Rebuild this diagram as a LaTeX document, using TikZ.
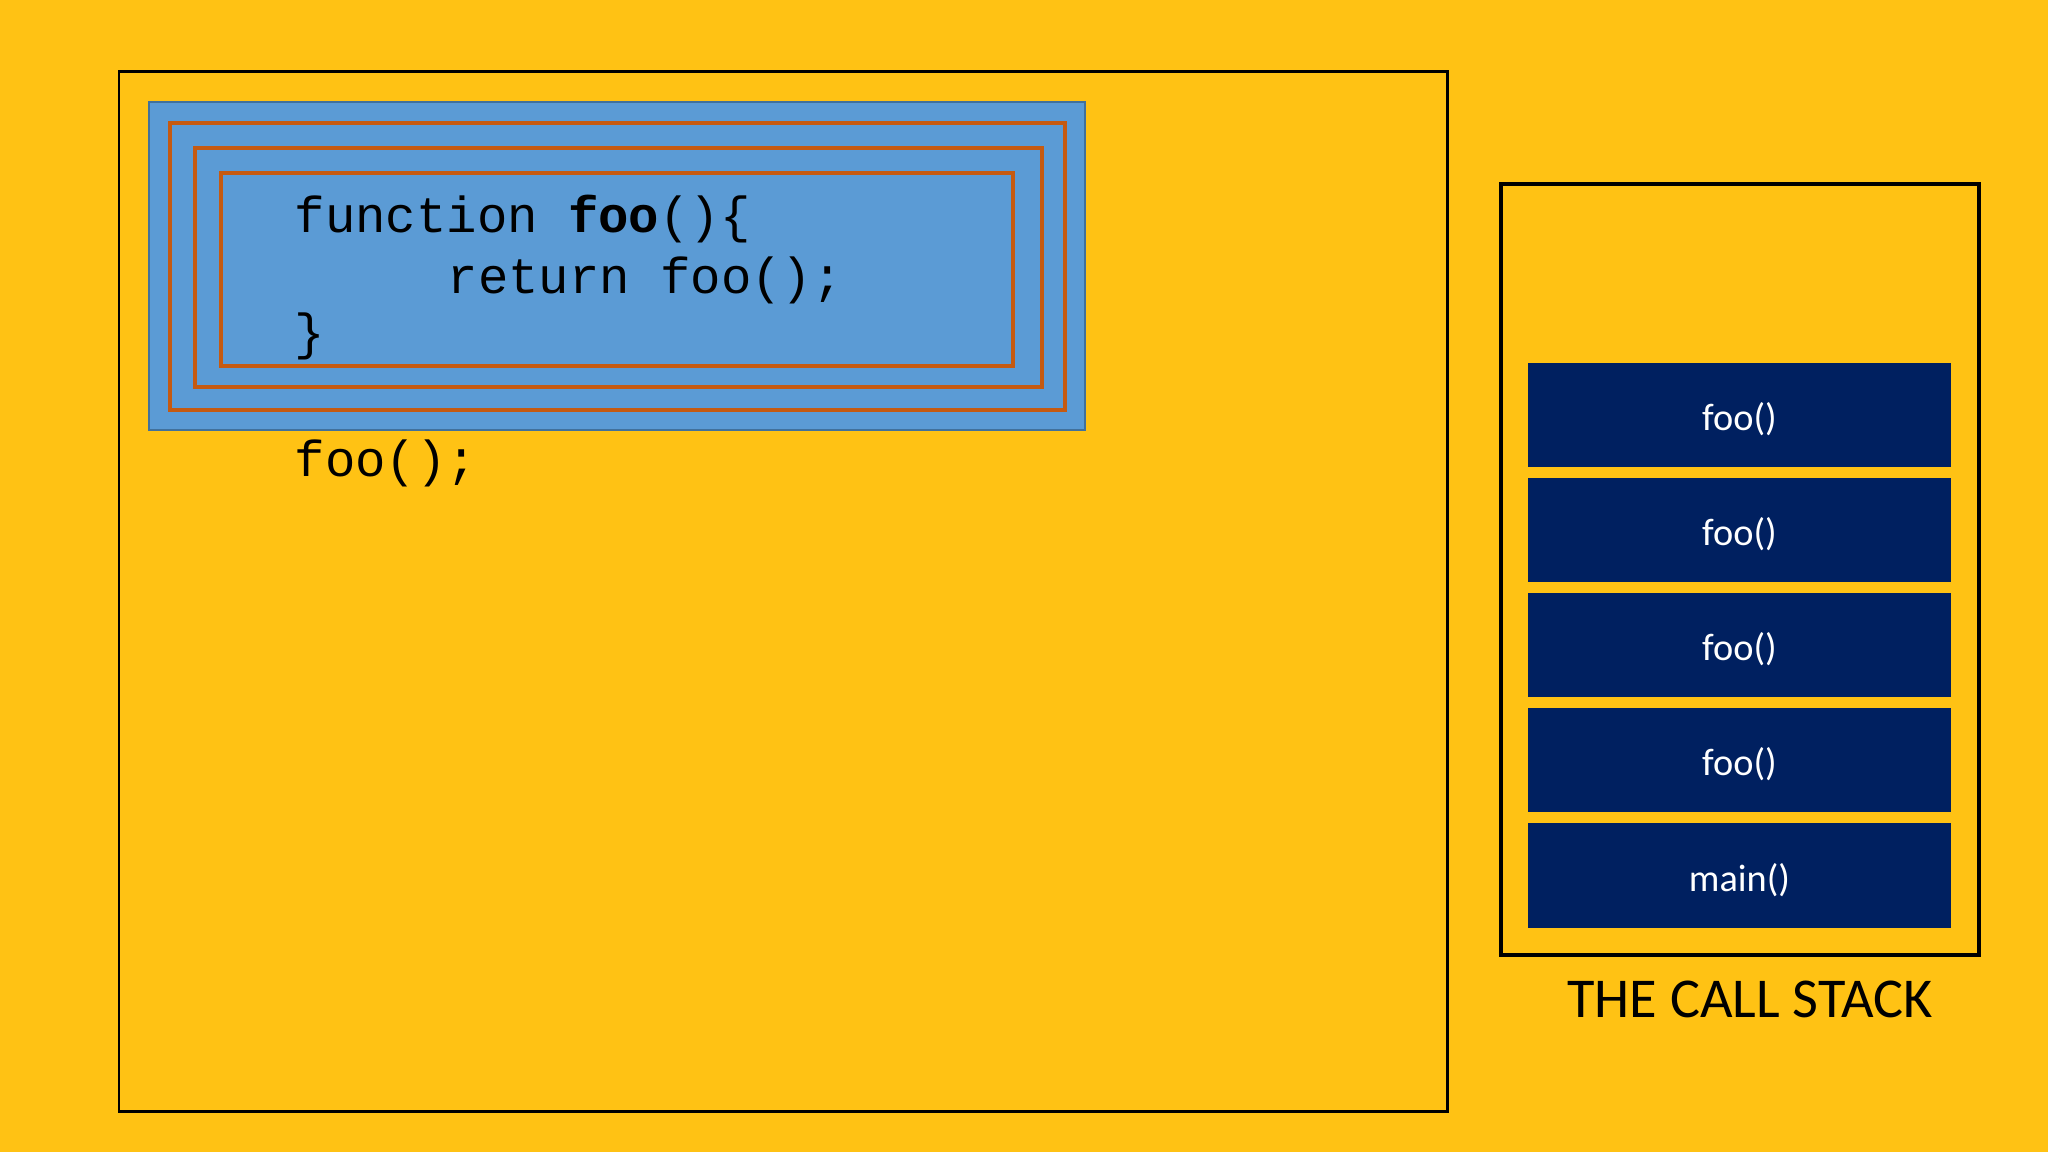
\documentclass[tikz,border=0pt]{standalone}
\usepackage{fontspec}
\setmainfont{Carlito}
\newfontfamily\codefont{Liberation Mono}
\definecolor{bgyellow}{RGB}{255,194,20}
\definecolor{codeblue}{RGB}{91,155,213}
\definecolor{codeedge}{RGB}{65,113,156}
\definecolor{frameorange}{RGB}{197,90,17}
\definecolor{stacknavy}{RGB}{0,32,96}
\tikzset{
  codetext/.style={anchor=base west,inner sep=0pt,font=\codefont\fontsize{14.4pt}{17pt}\selectfont,text=black},
  frame/.style={draw=frameorange,line width=1pt},
  stackitem/.style={fill=stacknavy,draw=none,minimum width=4.23cm,minimum height=1.04cm,inner sep=0pt,text=white,text height=1.9ex,text depth=0ex,font=\fontsize{10.9pt}{12pt}\selectfont},
}
\begin{document}
\begin{tikzpicture}[x=0.01cm,y=-0.01cm]
\fill[bgyellow] (0,0) rectangle (2048,1152);
\useasboundingbox (0,0) rectangle (2048,1152);
% left program area
\draw[line width=0.85pt,black] (119,72) rectangle (1447,1111);
\draw[fill=codeblue,draw=codeedge,line width=0.3pt] (149,102) rectangle (1085,430);
\draw[frame] (170,123) rectangle (1065,410);
\draw[frame] (195,148) rectangle (1042,387);
\draw[frame] (221,173) rectangle (1013,366);
\node[codetext] (l1) at (294,233) {function \textbf{foo}()\{};
\node[codetext] (l2) at (447,294) {return foo();};
\node[codetext] (l3) at (294,350) {\}};
\node[codetext] (l4) at (294,477) {foo();};
% call stack
\draw[line width=1.4pt,black] (1501,184) rectangle (1979,955);
\node[stackitem] (s1) at (1739.5,415) {foo()};
\node[stackitem] (s2) at (1739.5,530) {foo()};
\node[stackitem] (s3) at (1739.5,645) {foo()};
\node[stackitem] (s4) at (1739.5,760) {foo()};
\node[stackitem] (s5) at (1739.5,875.5) {main()};
\node[inner sep=0pt,font=\fontsize{16pt}{18pt}\selectfont] (title) at (1750,999) {THE CALL STACK};
\end{tikzpicture}
\end{document}
